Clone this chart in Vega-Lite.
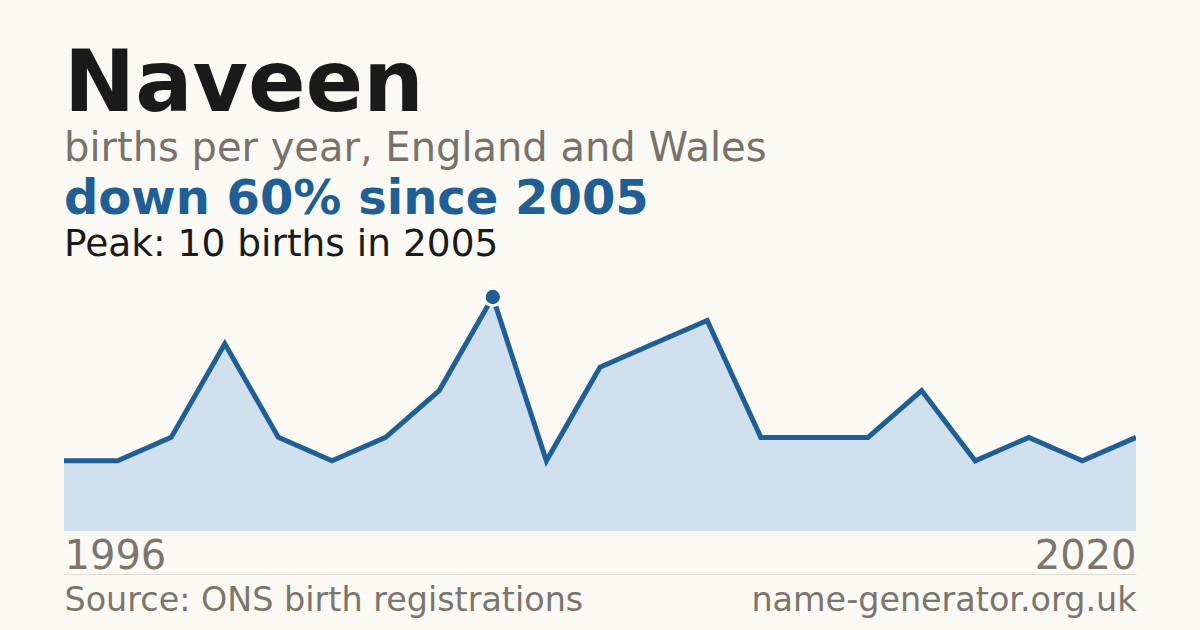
{
  "$schema": "https://vega.github.io/schema/vega-lite/v6.json",
  "background": "#faf9f4",
  "padding": {"left": 64, "right": 64, "top": 42, "bottom": 18},
  "title": {
    "text": "Naveen",
    "subtitle": "births per year, England and Wales",
    "anchor": "start",
    "font": "DejaVu Sans",
    "fontSize": 85,
    "fontWeight": "bold",
    "color": "#1a1a1a",
    "subtitleFont": "DejaVu Sans",
    "subtitleFontSize": 40,
    "subtitleColor": "#77736b",
    "subtitlePadding": 0,
    "offset": 6
  },
  "data": {
    "values": [
      {"year": 1996, "births": 3},
      {"year": 1997, "births": 3},
      {"year": 1998, "births": 4},
      {"year": 1999, "births": 8},
      {"year": 2000, "births": 4},
      {"year": 2001, "births": 3},
      {"year": 2002, "births": 4},
      {"year": 2004, "births": 6},
      {"year": 2005, "births": 10},
      {"year": 2006, "births": 3},
      {"year": 2007, "births": 7},
      {"year": 2008, "births": 8},
      {"year": 2010, "births": 9},
      {"year": 2011, "births": 4},
      {"year": 2012, "births": 4},
      {"year": 2014, "births": 4},
      {"year": 2015, "births": 6},
      {"year": 2016, "births": 3},
      {"year": 2018, "births": 4},
      {"year": 2019, "births": 3},
      {"year": 2020, "births": 4}
    ]
  },
  "vconcat": [
    {
      "width": 1072,
      "height": 234,
      "title": {
        "text": "down 60% since 2005",
        "subtitle": "Peak: 10 births in 2005",
        "anchor": "start",
        "font": "DejaVu Sans",
        "fontSize": 48,
        "fontWeight": "bold",
        "color": "#1f5f96",
        "subtitleFont": "DejaVu Sans",
        "subtitleFontSize": 37.5,
        "subtitleColor": "#1a1a1a",
        "subtitlePadding": 2,
        "offset": 19
      },
      "resolve": {"axis": {"x": "independent"}},
      "layer": [
        {
          "mark": {"type": "area", "color": "#d0e0ef", "opacity": 1, "clip": true},
          "encoding": {
            "x": {
              "field": "year",
              "type": "ordinal",
              "scale": {"type": "point", "padding": 0},
              "axis": {
                "orient": "bottom",
                "values": [1996, 2020],
                "labelAngle": 0,
                "labelFontSize": 40,
                "labelColor": "#7a766e",
                "labelBaseline": "alphabetic",
                "labelPadding": 37,
                "labelAlign": {"condition": {"test": "datum.value == 1996", "value": "left"}, "value": "right"},
                "ticks": false,
                "domain": false,
                "title": "Source: ONS birth registrations",
                "titleFontSize": 33.4,
                "titleFontWeight": "normal",
                "titleColor": "#7a766e",
                "titleAnchor": "start",
                "titleAlign": "left",
                "titleBaseline": "alphabetic",
                "titleX": 0,
                "titleY": 79
              }
            },
            "y": {"field": "births", "type": "quantitative", "scale": {"domain": [0, 10], "nice": false}, "axis": null}
          }
        },
        {
          "mark": {"type": "line", "color": "#1f5f96", "strokeWidth": 5, "clip": true},
          "encoding": {
            "x": {
              "field": "year",
              "type": "ordinal",
              "axis": {
                "orient": "bottom",
                "offset": 43,
                "labels": false,
                "ticks": false,
                "domain": true,
                "domainColor": "#dedbd4",
                "domainWidth": 1,
                "title": "name-generator.org.uk",
                "titleFontSize": 33.4,
                "titleFontWeight": "normal",
                "titleColor": "#7a766e",
                "titleAnchor": "end",
                "titleAlign": "right",
                "titleBaseline": "alphabetic",
                "titleX": 1072,
                "titleY": 36
              }
            },
            "y": {"field": "births", "type": "quantitative"}
          }
        },
        {
          "transform": [{"filter": "datum.births == 10"}],
          "mark": {"type": "point", "filled": true, "color": "#1f5f96", "size": 300, "stroke": "#ffffff", "strokeWidth": 3, "opacity": 1},
          "encoding": {
            "x": {"field": "year", "type": "ordinal", "axis": null},
            "y": {"field": "births", "type": "quantitative"}
          }
        }
      ]
    }
  ],
  "config": {
    "font": "DejaVu Sans",
    "view": {"stroke": null},
    "axis": {"grid": false}
  }
}
